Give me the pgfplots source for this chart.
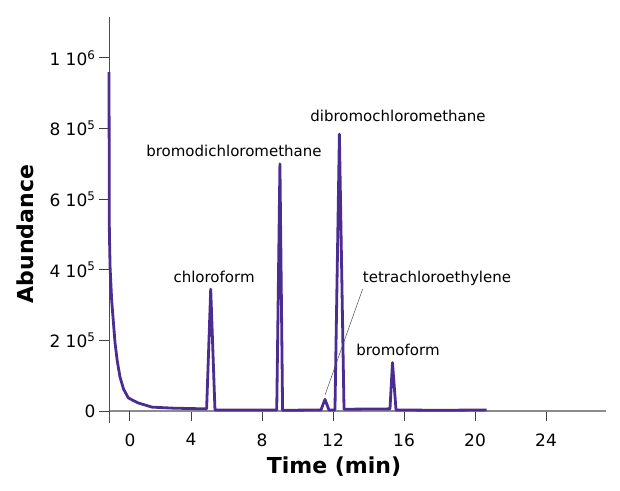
\documentclass[border=0pt]{standalone}
\usepackage{pgfplots}
\pgfplotsset{compat=1.18}
\usepackage{fontspec}
\setmainfont{DejaVu Sans}
\definecolor{trace}{HTML}{4B2C90}
\definecolor{axgray}{HTML}{8C8C8C}
\begin{document}
\begin{tikzpicture}
\useasboundingbox (0,0) rectangle (620pt,490pt);
\begin{axis}[
  at={(109pt,67pt)}, anchor=south west,
  scale only axis, width=497pt, height=406pt,
  xmin=-0.62, xmax=27.38, ymin=-34000, ymax=1116000,
  axis x line=middle, axis y line=left,
  x axis line style={draw=axgray, line width=1.4pt, -},
  y axis line style={draw=black!70, line width=0.9pt, -},
  xtick={4,8,12,16,20,24},
  extra x ticks={0.56}, extra x tick labels={0},
  extra x tick style={tick style={draw=none}},
  ytick={0,200000,400000,600000,800000,1000000},
  yticklabels={0,2 10\textsuperscript{5},4 10\textsuperscript{5},6 10\textsuperscript{5},8 10\textsuperscript{5},1 10\textsuperscript{6}},
  scaled y ticks=false,
  tick align=outside,
  x tick style={draw=black!75, line width=0.9pt},
  y tick style={draw=black!75, line width=0.9pt},
  x tick label style={font=\fontsize{17}{20}\selectfont, yshift=-9pt},
  y tick label style={font=\fontsize{17}{20}\selectfont},
  major tick length=10pt,
  /pgf/number format/assume math mode=true,
  clip=false,
]
\addplot[trace, line width=2.8pt, line join=round] coordinates {
(-0.62,960000) (-0.60,513000) (-0.56,408000) (-0.47,314000) (-0.37,250000)
(-0.28,193000) (-0.15,140000) (0,96000) (0.2,62000) (0.47,37000)
(1.01,23000) (1.8,11000) (3.0,8000) (4.88,6000)
(5.11,345000) (5.35,3000)
(8.83,3000) (9.01,700000) (9.16,2000)
(11.32,3000) (11.55,33000) (11.77,3000)
(12.11,3000) (12.36,784000) (12.62,5000)
(15.21,6000) (15.35,137000) (15.55,3000)
(18.0,2000) (20.66,3000)
};
\draw[black!70, line width=0.5pt] (axis cs:11.55,45300) -- (axis cs:13.67,345600);
\begin{scope}[every node/.style={font=\fontsize{15}{18}\selectfont, inner sep=0pt}]
\node at (axis cs:5.30,379600) {chloroform};
\node at (axis cs:6.42,736500) {bromodichloromethane};
\node at (axis cs:15.66,835700) {dibromochloromethane};
\node at (axis cs:17.86,376800) {tetrachloroethylene};
\node at (axis cs:15.66,172800) {bromoform};
\end{scope}
\end{axis}
\node[font=\fontsize{22}{26}\selectfont\bfseries] at (334pt,23pt) {Time (min)};
\node[font=\fontsize{22}{26}\selectfont\bfseries, rotate=90] at (25pt,256pt) {Abundance};
\end{tikzpicture}
\end{document}
